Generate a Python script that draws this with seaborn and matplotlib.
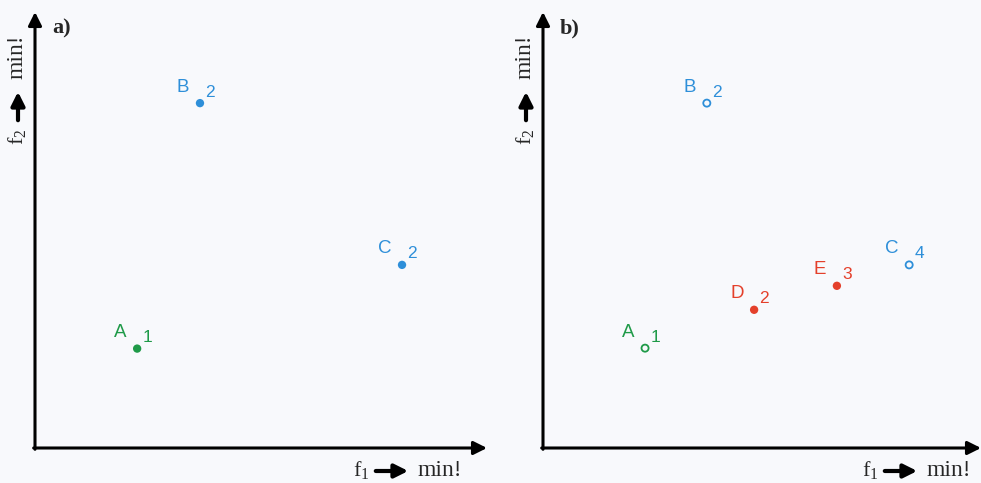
import numpy as np
import pandas as pd
import matplotlib
matplotlib.use('Agg')
import matplotlib.pyplot as plt
import seaborn as sns

sns.set_style('white')
plt.rcParams['font.family'] = ['Liberation Sans', 'DejaVu Sans']

# ---- data (arbitrary units, 0..100 on each axis) ----
a_names = ['A', 'B', 'C']
a_rank = ['1', '2', '2']
a_f1 = [22.6, 36.5, 81.2]
a_f2 = [22.8, 79.1, 42.0]
a_group = ['green', 'blue', 'blue']

b_names = ['A', 'B', 'C', 'D', 'E']
b_rank = ['1', '2', '4', '2', '3']
b_f1 = [23.3, 37.4, 83.6, 48.2, 67.1]
b_f2 = [22.9, 79.1, 42.0, 31.7, 37.2]
b_group = ['green', 'blue', 'blue', 'red', 'red']
b_filled = [False, False, False, True, True]

colors = {'green': '#1f9a48', 'blue': '#2e8fd9', 'red': '#e4402b'}
bg = '#f8f9fc'

W, H = 981, 483
fig = plt.figure(figsize=(W / 100, H / 100), dpi=100, facecolor=bg)

def px_axes(x0, y0, w, h):
    # x0,y0 = bottom-left corner in image pixels (y from top)
    return fig.add_axes([x0 / W, (H - y0) / H, w / W, h / H])

ax_a = px_axes(35, 448, 452, 436)
ax_b = px_axes(543, 448, 438, 436)

df_a = pd.DataFrame({'name': a_names, 'rank': a_rank, 'f1': a_f1, 'f2': a_f2,
                     'group': a_group, 'filled': True})
df_b = pd.DataFrame({'name': b_names, 'rank': b_rank, 'f1': b_f1, 'f2': b_f2,
                     'group': b_group, 'filled': b_filled})

def draw_panel(ax, df, tag):
    ax.set_facecolor(bg)
    ax.set_xlim(0, 100)
    ax.set_ylim(0, 100)
    for s in ax.spines.values():
        s.set_visible(False)
    ax.set_xticks([])
    ax.set_yticks([])

    full = df[df['filled']]
    hollow = df[~df['filled']]
    if len(full):
        sns.scatterplot(data=full, x='f1', y='f2', hue='group', palette=colors,
                        s=36, edgecolor='none', legend=False, ax=ax, zorder=3)
    for _, r in hollow.iterrows():
        ax.scatter(r['f1'], r['f2'], s=26, facecolor='none',
                   edgecolor=colors[r['group']], linewidth=1.3, zorder=3)

    for _, r in df.iterrows():
        c = colors[r['group']]
        ax.annotate(r['name'], (r['f1'], r['f2']), xytext=(-17, 16),
                    textcoords='offset pixels', ha='center', va='center',
                    fontsize=13.5, color=c)
        ax.annotate(r['rank'], (r['f1'], r['f2']), xytext=(10, 11),
                    textcoords='offset pixels', ha='center', va='center',
                    fontsize=12.5, color=c)

    ax.set_xlabel('')
    ax.set_ylabel('')
    arrow = dict(arrowstyle='-|>', lw=2.2, color='black', mutation_scale=20,
                 shrinkA=0, shrinkB=0)
    ax.annotate('', xy=(0, 1), xytext=(0, -0.003), xycoords='axes fraction',
                arrowprops=arrow, annotation_clip=False)
    ax.annotate('', xy=(1, 0), xytext=(-0.003, 0), xycoords='axes fraction',
                arrowprops=arrow, annotation_clip=False)
    ax.text(0.038, 0.963, tag, transform=ax.transAxes, fontsize=16,
            fontweight='bold', family='Liberation Serif', va='center', ha='left')

draw_panel(ax_a, df_a, 'a)')
draw_panel(ax_b, df_b, 'b)')

serif = 'Liberation Serif'

def fx(x):
    return x / W

def fy(y):
    return (H - y) / H

def axis_labels(ylab_x, ylab_y0, xlab_x0, xlab_y):
    # vertical label: f2 -> min!
    fig.text(fx(ylab_x), fy(ylab_y0), r'f$_\mathregular{2}$', rotation=90,
             ha='center', va='center', fontsize=16, family=serif)
    fig.patches.append(matplotlib.patches.FancyArrowPatch(
        (fx(ylab_x), fy(ylab_y0 - 14)), (fx(ylab_x), fy(ylab_y0 - 48)),
        transform=fig.transFigure, arrowstyle='-|>', mutation_scale=20,
        lw=3, color='black'))
    fig.text(fx(ylab_x - 1), fy(ylab_y0 - 80), 'min!', rotation=90,
             ha='center', va='center', fontsize=17, family=serif)
    # horizontal label: f1 -> min!
    fig.text(fx(xlab_x0), fy(xlab_y), r'f$_\mathregular{1}$', ha='center',
             va='center', fontsize=16, family=serif)
    fig.patches.append(matplotlib.patches.FancyArrowPatch(
        (fx(xlab_x0 + 12), fy(xlab_y)), (fx(xlab_x0 + 50), fy(xlab_y)),
        transform=fig.transFigure, arrowstyle='-|>', mutation_scale=20,
        lw=3, color='black'))
    fig.text(fx(xlab_x0 + 79), fy(xlab_y), 'min!', ha='center',
             va='center', fontsize=17, family=serif)

axis_labels(18, 137, 361, 471)
axis_labels(526, 137, 870, 471)

fig.savefig('out.png', dpi=100, facecolor=bg)
